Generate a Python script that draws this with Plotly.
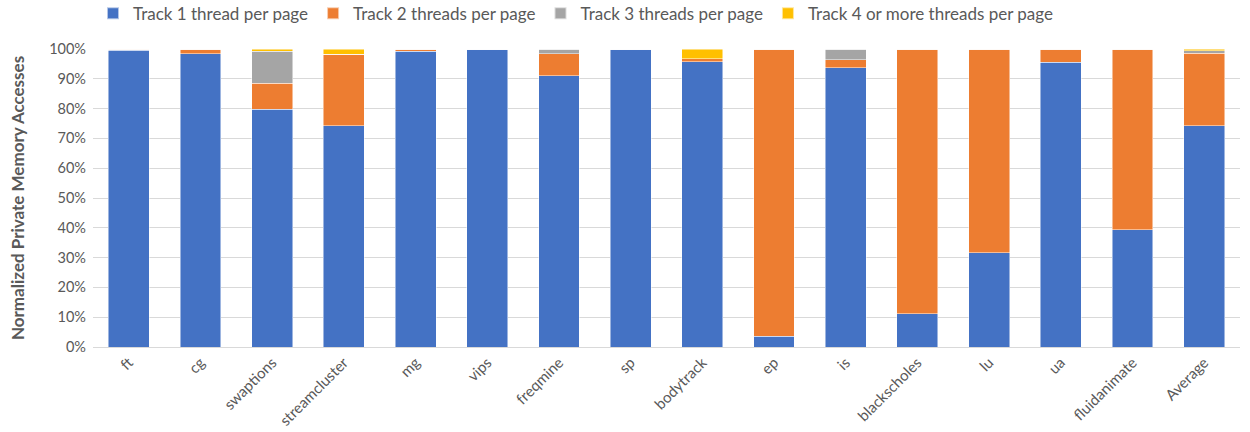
import plotly.graph_objects as go

benchmarks = ["ft", "cg", "swaptions", "streamcluster", "mg", "vips", "freqmine", "sp",
              "bodytrack", "ep", "is", "blackscholes", "lu", "ua", "fluidanimate", "Average"]

track1 = [99.5, 98.4, 79.8, 74.3, 99.2, 100.0, 91.0, 100.0, 95.8, 3.6, 93.7, 11.2, 31.6, 95.6, 39.4, 74.3]
track2 = [0.5, 1.6, 8.7, 23.9, 0.8, 0.0, 7.4, 0.0, 0.9, 96.4, 2.7, 88.8, 68.4, 4.4, 60.6, 24.2]
track3 = [0.0, 0.0, 10.8, 0.0, 0.0, 0.0, 1.6, 0.0, 0.0, 0.0, 3.6, 0.0, 0.0, 0.0, 0.0, 0.9]
track4 = [0.0, 0.0, 0.7, 1.8, 0.0, 0.0, 0.0, 0.0, 3.3, 0.0, 0.0, 0.0, 0.0, 0.0, 0.0, 0.6]

series = [
    ("Track 1 thread per page", track1, "#4472C4"),
    ("Track 2 threads per page", track2, "#ED7D31"),
    ("Track 3 threads per page", track3, "#A5A5A5"),
    ("Track 4 or more threads per page", track4, "#FFC000"),
]

FONT = "Lato, 'Open Sans', sans-serif"
GREY = "#595959"

fig = go.Figure()
for name, vals, color in series:
    fig.add_trace(go.Bar(
        x=benchmarks, y=vals, name=name,
        marker=dict(color=color, line=dict(color="rgba(255,255,255,0.6)", width=0.8)),
    ))

fig.update_layout(
    barmode="stack",
    bargap=0.43,
    width=1250, height=432,
    margin=dict(l=93, r=10, t=49, b=85, autoexpand=False),
    plot_bgcolor="white",
    paper_bgcolor="white",
    font=dict(family=FONT, color=GREY, size=14),
    legend=dict(
        orientation="h",
        x=0.0, xanchor="left",
        y=0.968, yref="container", yanchor="middle",
        font=dict(size=17, color=GREY),
        traceorder="normal",
        itemsizing="constant",
    ),
    showlegend=True,
)

fig.update_yaxes(
    range=[0, 100],
    dtick=10,
    ticksuffix="%",
    showgrid=True, gridcolor="#D9D9D9", gridwidth=1,
    zeroline=False,
    tickfont=dict(size=14.5, color=GREY),
    title=dict(text="Normalized Private Memory Accesses",
               font=dict(size=17, color=GREY, family=FONT, weight="bold"),
               standoff=20),
    ticklabelstandoff=6,
)

fig.update_xaxes(
    showline=True, linecolor="#D9D9D9", linewidth=1,
    tickangle=-45,
    tickfont=dict(size=15, color=GREY),
    ticks="",
)

fig.write_html("out.html")
